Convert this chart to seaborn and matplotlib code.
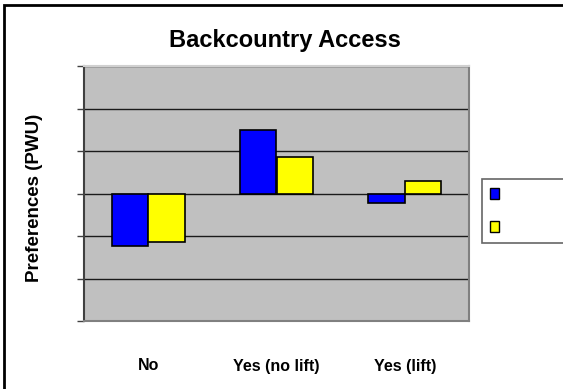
import matplotlib
matplotlib.use("Agg")
import matplotlib.pyplot as plt
from matplotlib.patches import Patch, Rectangle
import pandas as pd
import seaborn as sns

# Preference scores by backcountry access option, two respondent groups
categories = ["No", "Yes (no lift)", "Yes (lift)"]
groups = ["Group 1", "Group 2"]
group1_values = [-1.24, 1.50, -0.22]
group2_values = [-1.14, 0.86, 0.30]
bar_colors = ["#0000FF", "#FFFF00"]

df = pd.DataFrame({
    "access": categories * 2,
    "group": [groups[0]] * 3 + [groups[1]] * 3,
    "pwu": group1_values + group2_values,
})

sns.set_theme(style="white")
plt.rcParams["font.family"] = ["Liberation Sans", "DejaVu Sans"]
plt.rcParams["text.color"] = "black"

W, H = 563, 389
fig = plt.figure(figsize=(W / 100, H / 100), dpi=100)
fig.patch.set_facecolor("white")

# plot area in pixel coordinates
x0, x1, y0, y1 = 84, 469, 66, 321
ax = fig.add_axes([x0 / W, 1 - y1 / H, (x1 - x0) / W, (y1 - y0) / H])
ax.set_facecolor("#C0C0C0")

sns.barplot(data=df, x="access", y="pwu", hue="group", order=categories,
            hue_order=groups, palette=bar_colors, width=0.57, gap=0,
            edgecolor="black", linewidth=1.2, saturation=1, ax=ax,
            legend=False, zorder=3)

ax.set_ylim(-3, 3)
ax.set_yticks(range(-3, 4))
ax.set_yticklabels([])
ax.grid(axis="y", color="#1a1a1a", linewidth=1.0, zorder=0)
ax.grid(axis="x", visible=False)
ax.set_axisbelow(True)
ax.set_xlabel("")
ax.set_ylabel("")

ax.tick_params(axis="y", which="both", left=True, length=5, width=1,
               color="#404040", direction="out")
ax.tick_params(axis="x", length=0, pad=27)
for lab in ax.get_xticklabels():
    lab.set_fontweight("bold")
    lab.set_fontsize(11.5)
    lab.set_color("black")

ax.spines["left"].set_color("#404040")
ax.spines["left"].set_linewidth(1.5)
ax.spines["right"].set_color("#808080")
ax.spines["bottom"].set_color("#808080")
ax.spines["top"].set_color("#D0D0D0")
for s in ["right", "bottom", "top"]:
    ax.spines[s].set_linewidth(1.5)

# title and axis label
fig.text(285 / W, 1 - 41 / H, "Backcountry Access",
         ha="center", va="center", fontsize=17, fontweight="bold",
         color="black")
fig.text(35 / W, 1 - 197.5 / H, "Preferences (PWU)", rotation=90,
         ha="center", va="center", fontsize=13.5, fontweight="bold",
         color="black")

# legend box with colour keys only
handles = [Patch(facecolor=c, edgecolor="black", linewidth=1.0) for c in bar_colors]
leg = ax.legend(handles, ["", ""], loc="upper left",
                bbox_to_anchor=(482 / W, 1 - 179 / H, 100 / W, 0.0),
                bbox_transform=fig.transFigure, mode="expand",
                borderaxespad=0, fontsize=10, handlelength=0.6,
                handleheight=0.85, labelspacing=1.38, borderpad=0.6,
                handletextpad=0.4, fancybox=False, frameon=True)
leg.get_frame().set_edgecolor("#404040")
leg.get_frame().set_linewidth(1.2)
leg.get_frame().set_facecolor("white")

# outer chart frame (only top and left edges fall inside the image)
fig.add_artist(Rectangle((4 / W, -0.2), 1.3, 1.2 - 5 / H, transform=fig.transFigure,
                         fill=False, edgecolor="black", linewidth=2))

fig.savefig("out.png", dpi=100, facecolor="white")
